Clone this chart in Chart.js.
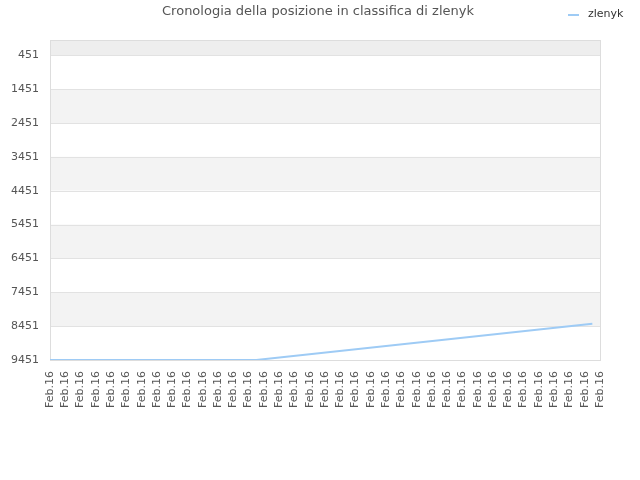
<!DOCTYPE html>
<html>
<head>
<meta charset="utf-8">
<script src="https://cdn.jsdelivr.net/npm/chart.js@4/dist/chart.umd.min.js"></script>
<style>
  body { margin: 0; background: #fff; }
  canvas { display: block; }
</style>
</head>
<body>
<canvas id="rankChart" width="640" height="480"></canvas>
<script>
// Data
const pointIndex = [0, 27, 71];
const rankValues = [9451, 9451, 8380];
const xTickLabels = ["Feb.16"];
const yTicks = [451, 1451, 2451, 3451, 4451, 5451, 6451, 7451, 8451, 9451];

const FONT = "'DejaVu Sans', sans-serif";

// Alternating horizontal bands behind the plot
const bandsPlugin = {
  id: "bands",
  beforeDatasetsDraw(chart) {
    const { ctx, chartArea: a, scales } = chart;
    const y = scales.y;
    const edges = [y.min].concat(yTicks);
    ctx.save();
    for (let i = 0; i < edges.length - 1; i++) {
      const top = y.getPixelForValue(edges[i]);
      const bottom = y.getPixelForValue(edges[i + 1]);
      if (i === 0) ctx.fillStyle = "#eeeeee";
      else ctx.fillStyle = i % 2 === 0 ? "#f3f3f3" : "#ffffff";
      ctx.fillRect(a.left, top, a.right - a.left, bottom - top);
    }
    ctx.strokeStyle = "#e2e2e2";
    ctx.lineWidth = 1;
    yTicks.forEach((v) => {
      const p = Math.round(y.getPixelForValue(v)) + 0.5;
      ctx.beginPath();
      ctx.moveTo(a.left, p);
      ctx.lineTo(a.right, p);
      ctx.stroke();
    });
    ctx.strokeStyle = "#dddddd";
    ctx.strokeRect(a.left + 0.5, a.top + 0.5, a.right - a.left, a.bottom - a.top);
    ctx.restore();
  },
};

// Title and legend drawn in the top strip
const headerPlugin = {
  id: "header",
  afterDraw(chart) {
    const { ctx } = chart;
    ctx.save();
    ctx.fillStyle = "#555555";
    ctx.font = "13px " + FONT;
    ctx.textAlign = "center";
    ctx.textBaseline = "middle";
    ctx.fillText("Cronologia della posizione in classifica di zlenyk", 318, 12);

    ctx.strokeStyle = "#9ecbf5";
    ctx.lineWidth = 2;
    ctx.beginPath();
    ctx.moveTo(568, 15);
    ctx.lineTo(579, 15);
    ctx.stroke();
    ctx.fillStyle = "#333333";
    ctx.font = "11px " + FONT;
    ctx.textAlign = "left";
    ctx.fillText(chart.data.datasets[0].label, 588, 14);
    ctx.restore();
  },
};

const ctx = document.getElementById("rankChart").getContext("2d");
const rankChart = new Chart(ctx, {
  type: "line",
  data: {
    datasets: [
      {
        label: "zlenyk",
        data: pointIndex.map((x, i) => ({ x: x, y: rankValues[i] })),
        borderColor: "#9ecbf5",
        borderWidth: 2,
        pointRadius: 0,
        tension: 0,
        fill: false,
      },
    ],
  },
  options: {
    responsive: false,
    animation: false,
    layout: { padding: { top: 40, left: 0, right: 40, bottom: 0 } },
    plugins: {
      legend: { display: false },
      title: { display: false },
      tooltip: { enabled: false },
    },
    scales: {
      x: {
        type: "linear",
        min: 0,
        max: 72,
        grid: { display: false, drawTicks: false },
        border: { display: false },
        afterBuildTicks(scale) {
          const t = [];
          for (let v = 0; v <= 72; v += 2) t.push({ value: v });
          scale.ticks = t;
        },
        afterFit(scale) {
          scale.height = 120;
        },
        ticks: {
          autoSkip: false,
          maxRotation: 90,
          minRotation: 90,
          padding: 11,
          color: "#555555",
          font: { family: FONT, size: 11 },
          callback: () => xTickLabels[0],
        },
      },
      y: {
        reverse: true,
        min: 0,
        max: 9451,
        grid: { display: false, drawTicks: false },
        border: { display: false },
        afterBuildTicks(scale) {
          scale.ticks = yTicks.map((v) => ({ value: v }));
        },
        afterFit(scale) {
          scale.width = 50;
        },
        ticks: {
          padding: 11,
          color: "#555555",
          font: { family: FONT, size: 11 },
          callback: (v) => String(v),
        },
      },
    },
  },
  plugins: [bandsPlugin, headerPlugin],
});
</script>
</body>
</html>
